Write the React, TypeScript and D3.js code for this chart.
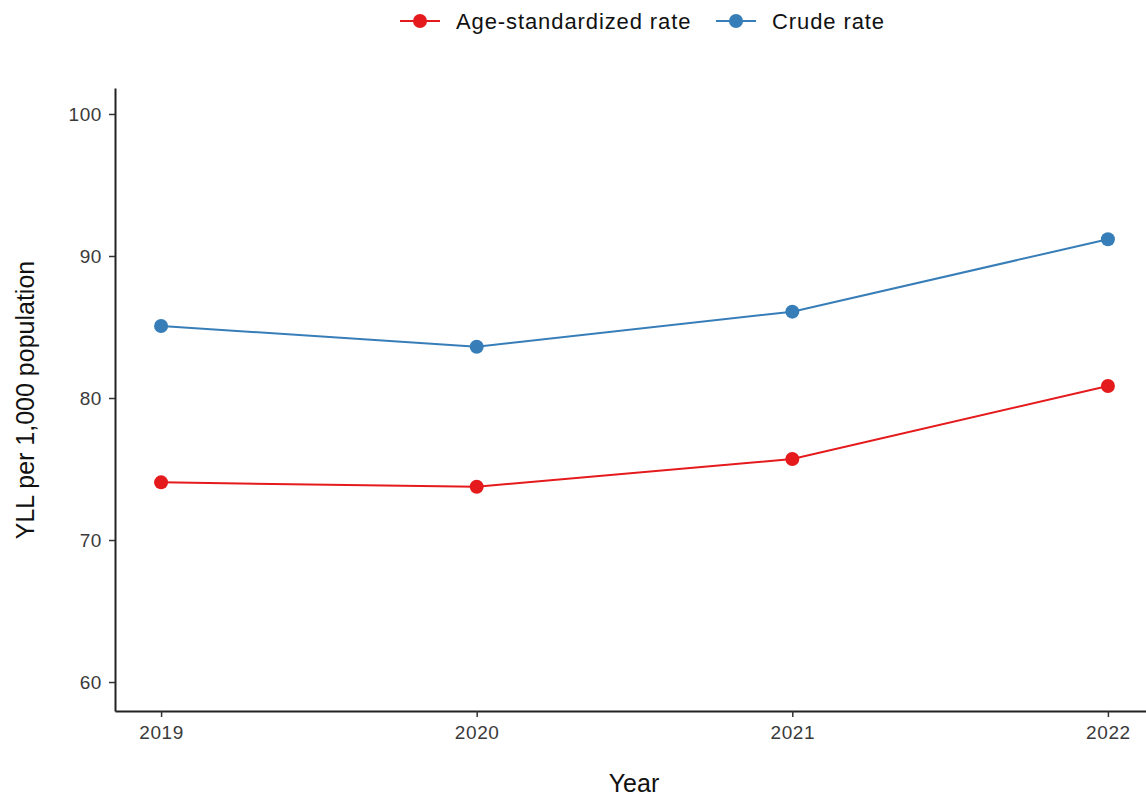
import React, { useEffect, useRef } from 'react';
import * as d3 from 'd3';

const years = [2019, 2020, 2021, 2022];
const ageStandardized = [74.06, 73.75, 75.7, 80.85];
const crudeRate = [85.07, 83.61, 86.08, 91.18];
const yTicks = [60, 70, 80, 90, 100];

const seriesNames = ['Age-standardized rate', 'Crude rate'];
const seriesColors = ['#E41A1C', '#377EB8'];

const WIDTH = 1146;
const HEIGHT = 800;
const FONT = '"Liberation Sans", Arial, sans-serif';

const App: React.FC = () => {
  const svgRef = useRef<SVGSVGElement>(null);

  useEffect(() => {
    document.body.style.margin = '0';
    if (!svgRef.current) return;

    const svg = d3.select(svgRef.current);
    svg.selectAll('*').remove();
    svg.attr('width', WIDTH).attr('height', HEIGHT);

    const left = 115;
    const top = 88;
    const bottom = 711;

    // ggplot-style expanded domains
    const xScale = d3.scaleLinear().domain([2018.854, 2022.146]).range([left, 1154]);
    const yScale = d3.scaleLinear().domain([57.96, 101.83]).range([bottom, top]);

    const styleAxis = (g: d3.Selection<SVGGElement, unknown, null, undefined>) => {
      g.select('.domain').attr('stroke', '#222').attr('stroke-width', 2);
      g.selectAll('.tick line').attr('stroke', '#333').attr('stroke-width', 1.5);
      g.selectAll('.tick text')
        .attr('fill', '#3a3a3a')
        .attr('font-size', 19)
        .attr('letter-spacing', 0.6)
        .attr('font-family', FONT);
    };

    // Y axis
    const yAxis = d3
      .axisLeft(yScale)
      .tickValues(yTicks)
      .tickSize(6)
      .tickSizeOuter(0)
      .tickPadding(7)
      .tickFormat((d) => String(d));
    svg.append('g').attr('transform', `translate(${left},0)`).call(yAxis).call(styleAxis);

    // X axis
    const xAxis = d3
      .axisBottom(xScale)
      .tickValues(years)
      .tickSize(6)
      .tickSizeOuter(0)
      .tickPadding(9)
      .tickFormat((d) => String(d));
    svg.append('g').attr('transform', `translate(0,${bottom})`).call(xAxis).call(styleAxis);

    // Axis titles
    svg
      .append('text')
      .attr('x', 634)
      .attr('y', 792)
      .attr('text-anchor', 'middle')
      .attr('font-size', 25)
      .attr('font-family', FONT)
      .attr('fill', '#111')
      .text('Year');

    svg
      .append('text')
      .attr('transform', `translate(34,400) rotate(-90)`)
      .attr('text-anchor', 'middle')
      .attr('font-size', 25)
      .attr('font-family', FONT)
      .attr('fill', '#111')
      .text('YLL per 1,000 population');

    // Lines and points
    const allSeries = [ageStandardized, crudeRate];
    const line = d3
      .line<number>()
      .x((_d, i) => xScale(years[i]))
      .y((d) => yScale(d));

    allSeries.forEach((values, si) => {
      svg
        .append('path')
        .datum(values)
        .attr('fill', 'none')
        .attr('stroke', seriesColors[si])
        .attr('stroke-width', 2)
        .attr('d', line);

      svg
        .selectAll(`.pt-${si}`)
        .data(values)
        .enter()
        .append('circle')
        .attr('class', `pt-${si}`)
        .attr('cx', (_d, i) => xScale(years[i]))
        .attr('cy', (d) => yScale(d))
        .attr('r', 7)
        .attr('fill', seriesColors[si]);
    });

    // Legend
    const legendY = 21;
    const legendX = [400, 716];
    seriesNames.forEach((name, i) => {
      const g = svg.append('g').attr('transform', `translate(${legendX[i]},${legendY})`);
      g.append('line')
        .attr('x1', 0)
        .attr('x2', 40)
        .attr('stroke', seriesColors[i])
        .attr('stroke-width', 2);
      g.append('circle').attr('cx', 20).attr('r', 7).attr('fill', seriesColors[i]);
      g.append('text')
        .attr('x', 56)
        .attr('dy', '0.35em')
        .attr('font-size', 22)
        .attr('letter-spacing', 0.9)
        .attr('font-family', FONT)
        .attr('fill', '#111')
        .text(name);
    });
  }, []);

  return <svg ref={svgRef} style={{ display: 'block' }}></svg>;
};

export default App;
